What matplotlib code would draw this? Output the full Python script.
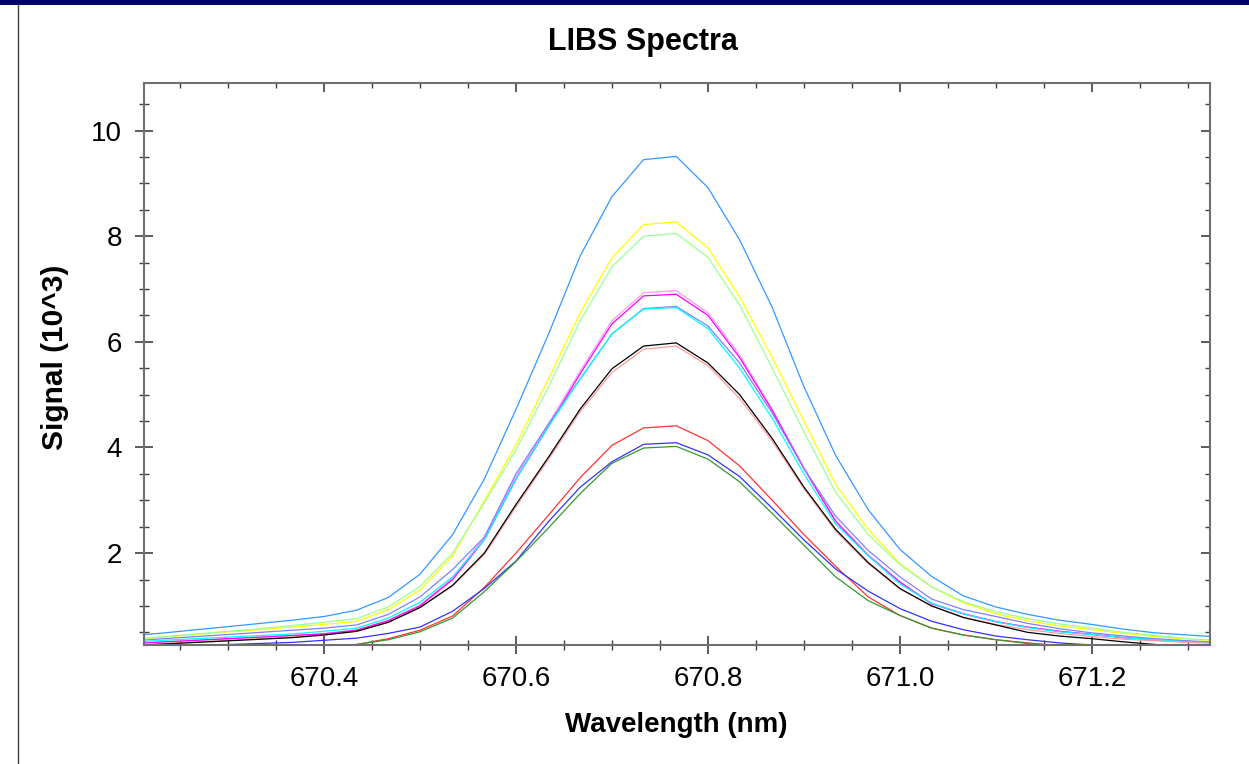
import matplotlib
matplotlib.use("Agg")
import matplotlib.pyplot as plt
from matplotlib.ticker import MultipleLocator, FormatStrFormatter
from matplotlib.patches import Rectangle
from matplotlib.lines import Line2D

plt.rcParams['font.family'] = ['Liberation Sans', 'DejaVu Sans']

# wavelength grid (nm)
wavelength = [670.201, 670.234, 670.267, 670.301, 670.334, 670.367, 670.400,
              670.434, 670.467, 670.500, 670.534, 670.567, 670.600, 670.634,
              670.667, 670.700, 670.733, 670.767, 670.800, 670.833, 670.867,
              670.900, 670.933, 670.967, 671.000, 671.033, 671.066, 671.100,
              671.133, 671.166, 671.200, 671.233, 671.266, 671.300, 671.333]

# signal, in thousands of counts
sig_skyblue = [0.44, 0.49, 0.55, 0.61, 0.67, 0.73, 0.80, 0.92, 1.16, 1.60, 2.35, 3.40,
               4.72, 6.15, 7.63, 8.75, 9.45, 9.51, 8.92, 7.93, 6.65, 5.15, 3.85, 2.82,
               2.07, 1.56, 1.19, 0.98, 0.84, 0.73, 0.65, 0.56, 0.49, 0.45, 0.41]
sig_yellow = [0.36, 0.41, 0.46, 0.51, 0.55, 0.60, 0.65, 0.71, 0.93, 1.30, 1.95, 2.99,
              4.05, 5.30, 6.55, 7.59, 8.22, 8.27, 7.78, 6.85, 5.70, 4.50, 3.30, 2.45,
              1.80, 1.36, 1.06, 0.85, 0.72, 0.62, 0.55, 0.48, 0.42, 0.37, 0.34]
sig_lightgreen = [0.37, 0.42, 0.47, 0.52, 0.57, 0.63, 0.69, 0.76, 0.98, 1.37, 2.00, 2.95,
                  3.95, 5.15, 6.40, 7.42, 8.00, 8.05, 7.60, 6.70, 5.50, 4.30, 3.15, 2.35,
                  1.78, 1.36, 1.08, 0.89, 0.76, 0.66, 0.58, 0.50, 0.44, 0.38, 0.35]
sig_violet = [0.29, 0.32, 0.35, 0.38, 0.41, 0.44, 0.48, 0.55, 0.73, 1.02, 1.53, 2.30,
              3.45, 4.45, 5.45, 6.40, 6.93, 6.97, 6.55, 5.75, 4.72, 3.62, 2.62, 1.97,
              1.46, 1.05, 0.86, 0.71, 0.60, 0.52, 0.46, 0.40, 0.36, 0.32, 0.30]
sig_magenta = [0.29, 0.32, 0.35, 0.38, 0.41, 0.44, 0.47, 0.54, 0.72, 1.00, 1.50, 2.25,
               3.40, 4.40, 5.40, 6.34, 6.87, 6.90, 6.50, 5.70, 4.70, 3.60, 2.60, 1.95,
               1.45, 1.04, 0.85, 0.70, 0.60, 0.52, 0.46, 0.40, 0.36, 0.32, 0.30]
sig_purple = [0.34, 0.38, 0.42, 0.46, 0.50, 0.54, 0.58, 0.64, 0.84, 1.17, 1.69, 2.30,
              3.50, 4.45, 5.30, 6.15, 6.63, 6.67, 6.30, 5.60, 4.65, 3.60, 2.70, 2.05,
              1.55, 1.13, 0.93, 0.80, 0.67, 0.57, 0.49, 0.43, 0.38, 0.34, 0.31]
sig_cyan = [0.32, 0.35, 0.38, 0.41, 0.44, 0.47, 0.52, 0.58, 0.77, 1.07, 1.55, 2.25,
            3.40, 4.40, 5.30, 6.15, 6.62, 6.65, 6.25, 5.50, 4.55, 3.50, 2.55, 1.95,
            1.42, 1.05, 0.85, 0.70, 0.59, 0.51, 0.46, 0.40, 0.36, 0.32, 0.30]
sig_black = [0.25, 0.28, 0.31, 0.34, 0.37, 0.40, 0.45, 0.52, 0.69, 0.97, 1.39, 2.00,
             2.92, 3.82, 4.73, 5.49, 5.92, 5.98, 5.60, 5.00, 4.17, 3.25, 2.45, 1.82,
             1.33, 1.00, 0.78, 0.64, 0.50, 0.43, 0.38, 0.32, 0.27, 0.25, 0.23]
sig_pink = [0.26, 0.29, 0.32, 0.35, 0.38, 0.41, 0.45, 0.52, 0.69, 0.97, 1.38, 1.97,
            2.88, 3.78, 4.68, 5.42, 5.86, 5.92, 5.55, 4.93, 4.12, 3.22, 2.42, 1.80,
            1.32, 1.00, 0.79, 0.65, 0.55, 0.48, 0.42, 0.37, 0.34, 0.31, 0.29]
sig_red = [0.15, 0.16, 0.17, 0.18, 0.19, 0.21, 0.23, 0.27, 0.38, 0.54, 0.81, 1.35,
           2.00, 2.72, 3.43, 4.04, 4.37, 4.41, 4.13, 3.65, 3.00, 2.35, 1.75, 1.17,
           0.82, 0.58, 0.45, 0.36, 0.30, 0.25, 0.22, 0.20, 0.19, 0.18, 0.17]
sig_blue = [0.22, 0.23, 0.25, 0.27, 0.29, 0.31, 0.35, 0.39, 0.48, 0.60, 0.90, 1.33,
            1.85, 2.60, 3.25, 3.73, 4.06, 4.09, 3.86, 3.45, 2.85, 2.25, 1.70, 1.28,
            0.95, 0.71, 0.55, 0.43, 0.36, 0.30, 0.26, 0.23, 0.21, 0.20, 0.19]
sig_green = [0.15, 0.16, 0.17, 0.18, 0.19, 0.21, 0.23, 0.27, 0.36, 0.51, 0.77, 1.27,
             1.84, 2.48, 3.13, 3.70, 3.99, 4.02, 3.78, 3.35, 2.75, 2.15, 1.55, 1.10,
             0.82, 0.58, 0.45, 0.36, 0.29, 0.24, 0.21, 0.19, 0.18, 0.17, 0.16]

series = [sig_skyblue, sig_yellow, sig_lightgreen, sig_violet, sig_magenta, sig_purple,
          sig_cyan, sig_pink, sig_black, sig_red, sig_blue, sig_green]
colors = ['#3399FF', '#FFFF00', '#99FF99', '#FF99FF', '#FF00FF', '#8080FF',
          '#00FFFF', '#FF9999', '#000000', '#FF3333', '#3333FF', '#339933']

W, H = 1249, 764
fig = plt.figure(figsize=(W / 100, H / 100), dpi=100)

# window frame bits
fig.patches.append(Rectangle((0, 1 - 5 / H), 1, 5 / H, transform=fig.transFigure,
                             facecolor='#000066', edgecolor='none'))
fig.lines.append(Line2D([18 / W, 18 / W], [0, 1 - 5 / H], transform=fig.transFigure,
                        color='#404040', lw=1))

ax = fig.add_axes([143.5 / W, 1 - 644.5 / H, (1210 - 143.5) / W, (644.5 - 83) / H])

for ys, c in zip(series, colors):
    ax.plot(wavelength, ys, color=c, lw=0.9)

ax.set_xlim(670.212, 671.323)
ax.set_ylim(0.27, 10.9)

ax.xaxis.set_major_locator(MultipleLocator(0.2))
ax.xaxis.set_minor_locator(MultipleLocator(0.05))
ax.xaxis.set_major_formatter(FormatStrFormatter('%.1f'))
ax.yaxis.set_major_locator(MultipleLocator(2))
ax.yaxis.set_minor_locator(MultipleLocator(0.5))

for s in ax.spines.values():
    s.set_color('#707070')
    s.set_linewidth(1.5)

ax.tick_params(which='major', direction='inout', length=13.5, width=1.2,
               color='#404040', labelsize=20, pad=8.5)
ax.tick_params(which='minor', direction='inout', length=6.5, width=1.0,
               color='#404040')

secx = ax.secondary_xaxis('top')
secx.xaxis.set_major_locator(MultipleLocator(0.2))
secx.xaxis.set_minor_locator(MultipleLocator(0.05))
secx.tick_params(which='major', direction='in', length=6.5, width=1.2, color='#404040',
                 labeltop=False)
secx.tick_params(which='minor', direction='in', length=3.6, width=1.0, color='#404040')
secx.spines['top'].set_visible(False)

secy = ax.secondary_yaxis('right')
secy.yaxis.set_major_locator(MultipleLocator(2))
secy.yaxis.set_minor_locator(MultipleLocator(0.5))
secy.tick_params(which='major', direction='in', length=6.5, width=1.2, color='#404040',
                 labelright=False)
secy.tick_params(which='minor', direction='in', length=3.6, width=1.0, color='#404040')
secy.spines['right'].set_visible(False)

fig.text(643 / W, 1 - 42 / H, 'LIBS Spectra', ha='center', va='center',
         fontsize=22, fontweight='bold')
fig.text(676 / W, 1 - 725 / H, 'Wavelength (nm)', ha='center', va='center',
         fontsize=20, fontweight='bold')
fig.text(55 / W, 1 - 357 / H, 'Signal (10^3)', ha='center', va='center',
         rotation=90, fontsize=21.5, fontweight='bold')

fig.savefig('out.png', dpi=100)
